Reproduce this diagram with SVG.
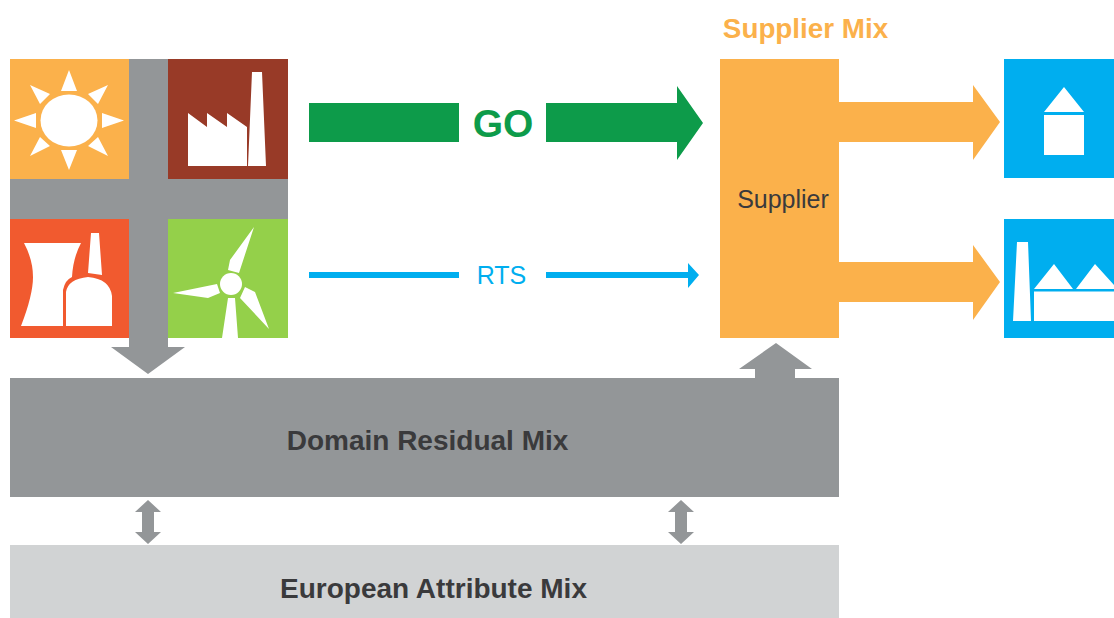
<svg xmlns="http://www.w3.org/2000/svg" width="1114" height="618" viewBox="0 0 1114 618">
<style>
text{font-family:"Liberation Sans",Arial,sans-serif;text-anchor:middle}
.w{fill:#fff}.g{fill:#939698}.o{fill:#fbb14b}.b{fill:#00aeef}
.t{font-weight:700;font-size:28px;fill:#3a3a3c}
</style>
<rect width="1114" height="618" fill="#fff"/>
<g id="connectors">
<rect class="g" x="10" y="179" width="278" height="40"/>
<path class="g" d="M129 59H168V347H185L148 374L111 347H129Z"/>
<path class="g" d="M755 378V369H739L776 343L812 369H795V378Z"/>
<path fill="#0d9b4a" d="M309 103H459V142H309ZM546 103H677V86L703 123L677 160V142H546Z"/>
<path class="b" d="M309 272H459V278H309ZM546 272H688V263L699 275L688 288V278H546Z"/>
<path class="o" d="M839 102H973V85L1000 122L973 160V142H839Z"/>
<path class="o" d="M839 262H973V245L1000 282L973 320V302H839Z"/>
<path class="g" d="M148 500L161 512H154V532H161L148 544L135 532H142V512H135Z"/>
<path class="g" d="M681 500L694 512H687V532H694L681 544L668 532H675V512H668Z"/>
</g>
<g id="solar">
<rect class="o" x="10" y="59" width="119" height="120"/>
<ellipse class="w" cx="69" cy="120.500" rx="28.500" ry="26"/>
<path class="w" d="M69 70L77 91H61ZM69 170L61 150H77ZM14 120.500L36 113V128ZM124 120.500L102 113V128ZM30 85L50 94L40 104ZM108 85L98 104L88 94ZM30 156L40 137L50 146ZM108 156L88 146L98 137Z"/>
</g>
<g id="factory">
<rect x="168" y="59" width="120" height="120" fill="#983a27"/>
<path class="w" d="M188 113L207 127V113L227 127V113L247 127V166H188ZM252 72H262L266 166H248Z"/>
</g>
<g id="nuclear">
<rect x="10" y="219" width="119" height="119" fill="#f15a2f"/>
<path class="w" d="M24 243H81Q73 258 72 277Q65 280 63 290V326H21Q33 295 33 277Q33 260 24 243ZM91 233H99L102 275L88 273ZM66 326V292Q68 279 88 277Q110 279 112 296V326Z"/>
</g>
<g id="wind">
<rect x="168" y="219" width="120" height="119" fill="#94d04a"/>
<circle class="w" cx="231" cy="284" r="11"/>
<path class="w" d="M254 227L239 273L228 270L230 260ZM173 293L217 284L220 293L208 298ZM269 329L240 298L245 287L255 292ZM228 298H235L238 338H222Z"/>
</g>
<g id="go-label"><text x="503" y="137" font-size="39" font-weight="700" fill="#0d9b4a">GO</text></g>
<g id="rts-label"><text x="501.500" y="284" font-size="25" fill="#00aeef">RTS</text></g>
<g id="supplier">
<rect class="o" x="720" y="59" width="119" height="279"/>
<text x="783" y="208" font-size="25" fill="#3a3a3c">Supplier</text>
<text x="805.500" y="38" font-size="27.800" font-weight="700" fill="#fbb14b">Supplier Mix</text>
</g>
<g id="household">
<rect class="b" x="1004" y="59" width="110" height="119"/>
<path class="w" d="M1064 87L1084 112H1044ZM1044 115H1084V155H1044Z"/>
</g>
<g id="industry">
<rect class="b" x="1004" y="219" width="110" height="119"/>
<path class="w" d="M1017 242H1028L1031 321H1013ZM1054 264L1073 289H1034ZM1095 264L1114 285V289H1076ZM1034 291.500H1114V321H1034Z"/>
</g>
<g id="domain">
<rect class="g" x="10" y="378" width="829" height="119"/>
<text class="t" x="427.500" y="450">Domain Residual Mix</text>
</g>
<g id="european">
<rect x="10" y="545" width="829" height="73" fill="#d1d3d4"/>
<text class="t" x="433.500" y="598">European Attribute Mix</text>
</g>
</svg>
